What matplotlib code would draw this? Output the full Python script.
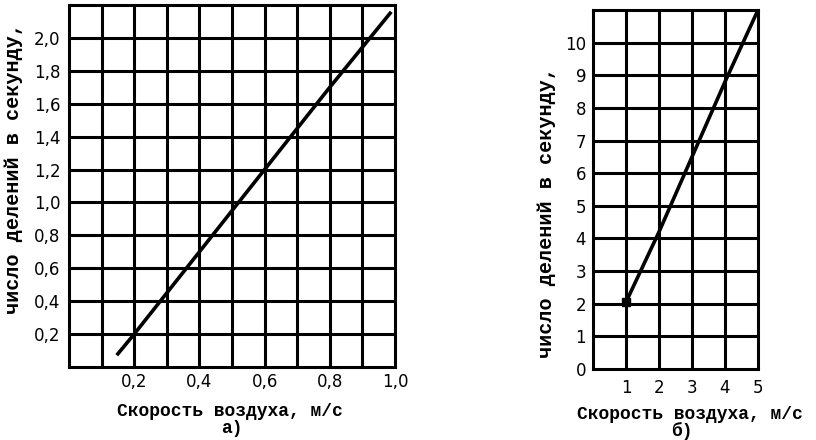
from matplotlib import pyplot as plt

# Chart a): air speed 0..1.0 m/s
speed_a = [0.15, 0.2, 0.4, 0.6, 0.8, 0.985]
rate_a = [0.08, 0.2, 0.7, 1.2, 1.7, 2.15]
xticks_a = [0.2, 0.4, 0.6, 0.8, 1.0]
xticklabels_a = ["0,2", "0,4", "0,6", "0,8", "1,0"]
yticks_a = [0.2, 0.4, 0.6, 0.8, 1.0, 1.2, 1.4, 1.6, 1.8, 2.0]
yticklabels_a = ["0,2", "0,4", "0,6", "0,8", "1,0", "1,2", "1,4", "1,6",
                 "1,8", "2,0"]

# Chart б): air speed 1..5 m/s
speed_b = [1, 2, 3, 4, 5]
rate_b = [2.05, 4.2, 6.5, 8.8, 11.0]
xticks_b = [1, 2, 3, 4, 5]
yticks_b = list(range(0, 11))

ylabel = "число делений в секунду,"
xlabel = "Скорость воздуха, м/с"

W, H = 816, 440
fig = plt.figure(figsize=(W / 100, H / 100), dpi=100)

lw = 2.2
tickfont = dict(family="DejaVu Sans", size=12)
labelfont = dict(family="Liberation Mono", weight="bold", size=13)
ylabelfont = dict(family="Liberation Mono", weight="bold", size=14.5)


def px(x0, y0, x1, y1):
    """Pixel box (top-left origin) -> figure fraction rect"""
    return [x0 / W, 1 - y1 / H, (x1 - x0) / W, (y1 - y0) / H]


def style(ax, xlim, ylim, xgrid, ygrid):
    ax.set_xlim(*xlim)
    ax.set_ylim(*ylim)
    for g in xgrid:
        ax.axvline(g, color="black", lw=lw, zorder=1)
    for g in ygrid:
        ax.axhline(g, color="black", lw=lw, zorder=1)
    for s in ax.spines.values():
        s.set_linewidth(lw)
    ax.tick_params(length=0)


# --- chart a)
ax1 = fig.add_axes(px(69, 5, 395, 367))
style(ax1, (0, 1.0), (0, 2.2),
      [i / 10 for i in range(1, 10)], [i / 5 for i in range(1, 11)])
ax1.plot(speed_a, rate_a, color="black", lw=2.6, zorder=3)
ax1.set_xticks(xticks_a, xticklabels_a, **tickfont)
ax1.set_yticks(yticks_a, yticklabels_a, **tickfont)
ax1.tick_params(axis="x", pad=4)
ax1.tick_params(axis="y", pad=6)

# --- chart б)
ax2 = fig.add_axes(px(593, 10, 758, 369))
style(ax2, (0, 5), (0, 11), range(1, 5), range(1, 11))
ax2.plot(speed_b, rate_b, color="black", lw=2.6, zorder=3)
ax2.plot(speed_b[0], rate_b[0], "s", color="black", ms=6, zorder=4)
ax2.set_xticks(xticks_b, [str(v) for v in xticks_b], **tickfont)
ax2.set_yticks(yticks_b, [str(v) for v in yticks_b], **tickfont)
ax2.tick_params(axis="x", pad=7)
ax2.tick_params(axis="y", pad=5)

# axis titles and captions
fig.text(14 / W, 1 - 169 / H, ylabel, rotation=90, ha="center", va="center",
         **ylabelfont)
fig.text(547 / W, 1 - 212 / H, ylabel, rotation=90, ha="center",
         va="center", **ylabelfont)
fig.text(230 / W, 1 - 411 / H, xlabel, ha="center", va="center", **labelfont)
fig.text(232 / W, 1 - 428 / H, "а)", ha="center", va="center", **labelfont)
fig.text(690 / W, 1 - 414 / H, xlabel, ha="center", va="center", **labelfont)
fig.text(682 / W, 1 - 431 / H, "б)", ha="center", va="center", **labelfont)

fig.savefig("out.png", dpi=100)
